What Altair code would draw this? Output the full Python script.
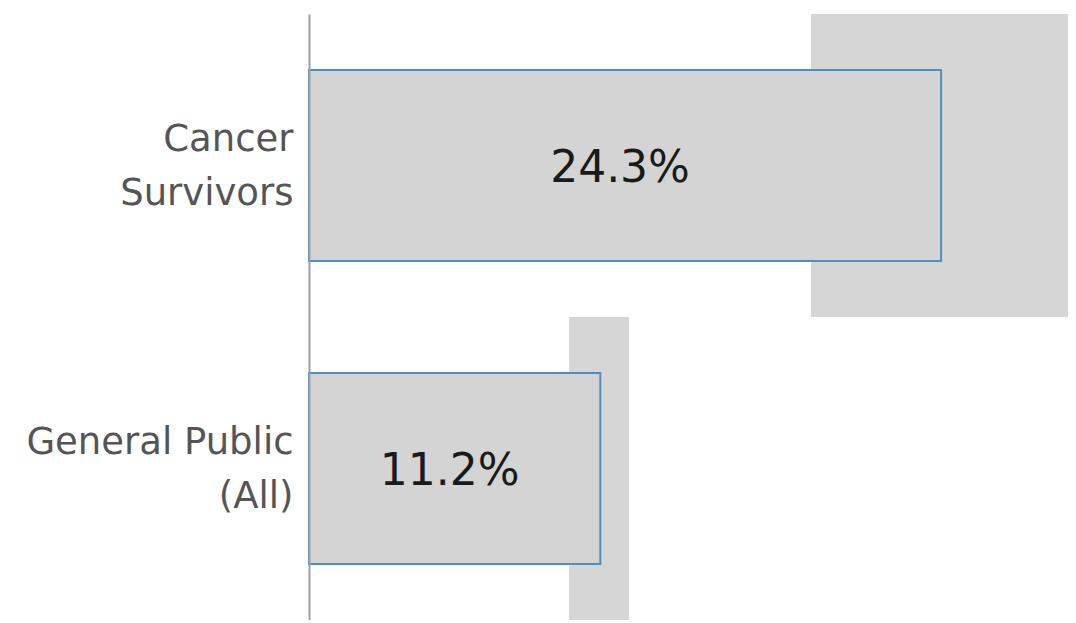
import altair as alt
import pandas as pd

categories = ["Cancer Survivors", "General Public (All)"]
values = [24.3, 11.2]
ci_low = [19.3, 10.0]
ci_high = [29.5, 12.3]
x_max = 29.18

df = pd.DataFrame({"group": categories, "value": values, "lo": ci_low, "hi": ci_high})

y = alt.Y(
    "group:N", sort=categories, title=None,
    scale=alt.Scale(paddingInner=0, paddingOuter=0),
    axis=alt.Axis(
        labelExpr="[slice(datum.label,0,lastindexof(datum.label,' ')), slice(datum.label,lastindexof(datum.label,' ')+1)]",
        labelFont="DejaVu Sans", labelFontSize=37, labelColor="#555555",
        labelLineHeight=54, labelPadding=16, labelLimit=0, labelOffset=-26,
        ticks=False, domainColor="#a0a0a0", domainWidth=2, labelAlign="right",
        labelBaseline="middle", grid=False, zindex=1,
    ),
)
xs = alt.Scale(domain=[0, x_max], nice=False, zero=True)
base = alt.Chart(df)

ci = base.mark_bar(color="#d6d6d6", clip=True).encode(
    x=alt.X("lo:Q", scale=xs, axis=None), x2="hi:Q", y=y
)
bar = base.mark_bar(size=191, fill="#d4d4d4", stroke="#4e8fc0", strokeWidth=2).encode(
    x=alt.X("value:Q", scale=xs, axis=None), y=y
)
text = base.transform_calculate(
    mid="datum.value/2", label="format(datum.value,'.1f')+'%'"
).mark_text(
    font="DejaVu Sans", fontSize=44, color="#1a1a1a", baseline="middle", dx=-5, dy=3
).encode(
    x=alt.X("mid:Q", scale=xs, axis=None), y=y, text="label:N"
)

chart = alt.layer(ci, bar, text).properties(
    width=759, height=606,
    padding={"left": 301, "top": 6, "right": 0, "bottom": 0},
    autosize=alt.AutoSizeParams(type="none"),
).configure_view(stroke=None)

chart.save("out.html", embed_options={"renderer": "svg", "actions": False})
